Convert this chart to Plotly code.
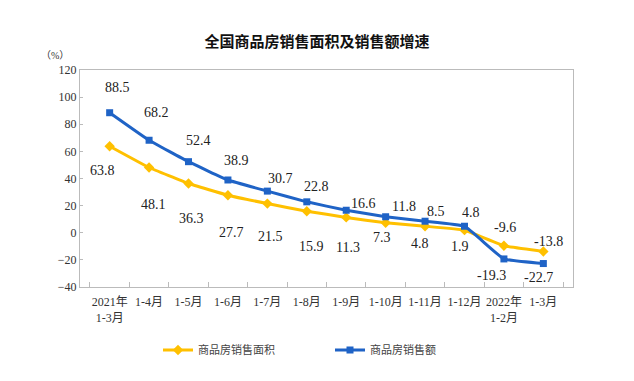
import plotly.graph_objects as go

categories = ["2021年<br>1-3月", "1-4月", "1-5月", "1-6月", "1-7月", "1-8月",
              "1-9月", "1-10月", "1-11月", "1-12月", "2022年<br>1-2月", "1-3月"]
area_growth = [63.8, 48.1, 36.3, 27.7, 21.5, 15.9, 11.3, 7.3, 4.8, 1.9, -9.6, -13.8]
sales_growth = [88.5, 68.2, 52.4, 38.9, 30.7, 22.8, 16.6, 11.8, 8.5, 4.8, -19.3, -22.7]
y_ticks = [-40, -20, 0, 20, 40, 60, 80, 100, 120]

# label offsets in pixels (dx, dy with dy positive = up)
area_dx = [-7, 4, 3, 4, 3, 5, 2, -4, -5, -5, 1, 5]
area_dy = [-24, -37, -35, -37, -33, -35, -30, -15, -17, -16, 18, 10]
sales_dx = [8, 7, 10, 9, 13, 10, 17, 18, 11, 6, -12, -5]
sales_dy = [25, 28, 21, 19, 13, 15, 7, 10, 10, 14, -17, -14]

YELLOW = "#FFC000"
BLUE = "#1F63C6"
SERIF = "'Liberation Serif', 'Noto Sans CJK SC'"

fig = go.Figure()
fig.add_trace(go.Scatter(
    x=categories, y=area_growth, name="商品房销售面积", mode="lines+markers",
    line=dict(color=YELLOW, width=3, shape="spline", smoothing=0.3),
    marker=dict(symbol="diamond", size=8, color=YELLOW),
))
fig.add_trace(go.Scatter(
    x=categories, y=sales_growth, name="商品房销售额", mode="lines+markers",
    line=dict(color=BLUE, width=3, shape="spline", smoothing=0.3),
    marker=dict(symbol="square", size=7, color=BLUE),
))

annotations = []
for c, v, dx, dy in zip(categories, area_growth, area_dx, area_dy):
    annotations.append(dict(x=c, y=v, text=f"{v}", showarrow=False,
                            xshift=dx, yshift=dy,
                            font=dict(family=SERIF, size=14, color="#222")))
for c, v, dx, dy in zip(categories, sales_growth, sales_dx, sales_dy):
    annotations.append(dict(x=c, y=v, text=f"{v}", showarrow=False,
                            xshift=dx, yshift=dy,
                            font=dict(family=SERIF, size=14, color="#222")))
annotations.append(dict(x=-0.05, y=1.065, xref="paper", yref="paper", text="（%）",
                        xanchor="center", yanchor="middle",
                        showarrow=False, font=dict(family=SERIF, size=10, color="#333")))

fig.update_layout(
    annotations=annotations,
    width=634, height=381,
    margin=dict(l=80, r=61, t=70, b=94),
    paper_bgcolor="white", plot_bgcolor="white",
    title=dict(text="<b>全国商品房销售面积及销售额增速</b>", x=0.5, xanchor="center",
               y=1 - 42 / 381, yanchor="middle",
               font=dict(family="Noto Sans CJK SC", size=15, color="#111")),
    showlegend=True,
    legend=dict(orientation="h", x=(158 - 80) / 493, xanchor="left", y=-0.29, yanchor="middle",
                font=dict(family="Noto Sans CJK SC", size=11, color="#444"),
                itemwidth=30, entrywidth=127),
    xaxis=dict(
        type="category", showgrid=False, showline=True, linecolor="#BBBBBB", linewidth=1,
        mirror=True, ticks="inside", tickson="boundaries", ticklen=5, tickcolor="#BBBBBB",
        tickangle=0, automargin=False, ticklabelstandoff=4,
        tickfont=dict(family=SERIF, size=12, color="#333"),
    ),
    yaxis=dict(
        range=[-40, 120], tickvals=y_ticks, showgrid=False, zeroline=False,
        showline=True, linecolor="#BBBBBB", linewidth=1, mirror=True,
        ticks="inside", ticklen=3, tickcolor="#BBBBBB", automargin=False,
        tickfont=dict(family=SERIF, size=12, color="#333"),
    ),
)

fig.write_html("out.html", config={"displayModeBar": False},
               post_script="document.body.style.margin='0';document.body.style.overflow='hidden';")
